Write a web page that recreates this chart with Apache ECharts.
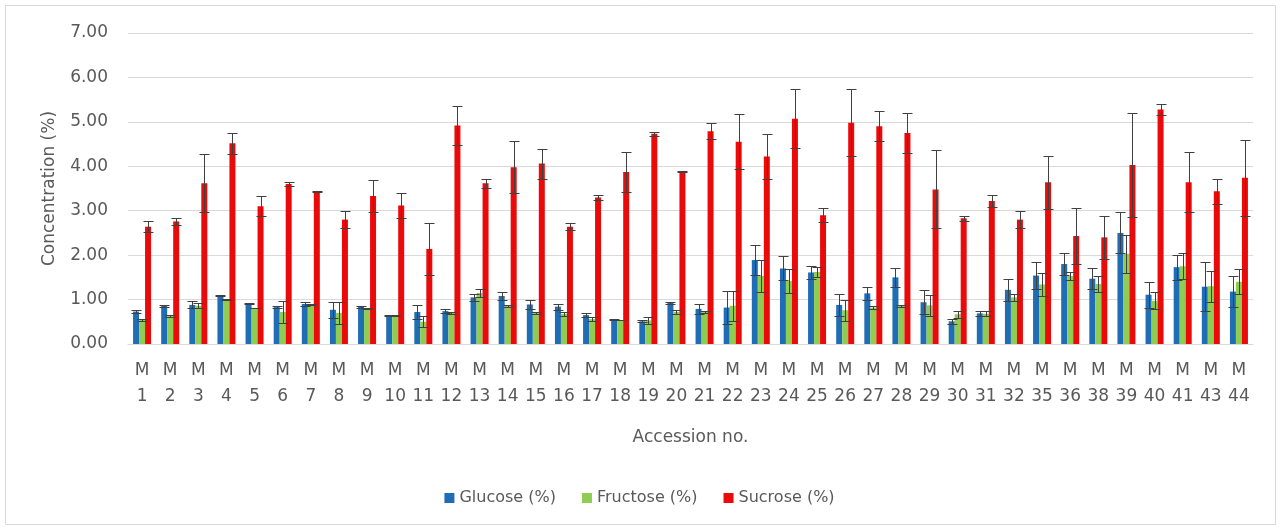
<!DOCTYPE html>
<html>
<head>
<meta charset="utf-8">
<title>Sugar concentration by accession</title>
<script src="https://cdn.jsdelivr.net/npm/echarts@6/dist/echarts.min.js"></script>
<style>
  html, body { margin: 0; padding: 0; background: #ffffff; }
  #chart { width: 1279px; height: 530px; }
</style>
</head>
<body>
<div id="chart"></div>
<script>
// Accession codes along the x axis
const accessions = ['M1','M2','M3','M4','M5','M6','M7','M8','M9','M10',
  'M11','M12','M13','M14','M15','M16','M17','M18','M19','M20',
  'M21','M22','M23','M24','M25','M26','M27','M28','M29','M30',
  'M31','M32','M35','M36','M38','M39','M40','M41','M43','M44'];

// Mean concentration (%) and standard deviation per accession
const glucose = [0.73,0.86,0.88,1.09,0.91,0.83,0.90,0.77,0.84,0.65,
  0.72,0.74,1.05,1.08,0.89,0.84,0.65,0.55,0.51,0.93,
  0.79,0.82,1.89,1.70,1.61,0.88,1.14,1.50,0.94,0.51,
  0.69,1.22,1.54,1.80,1.47,2.50,1.11,1.73,1.29,1.18];
const glucoseSd = [0.03,0.02,0.08,0.02,0.02,0.03,0.05,0.18,0.02,0.01,
  0.15,0.05,0.08,0.08,0.10,0.07,0.05,0.01,0.02,0.02,
  0.12,0.38,0.34,0.27,0.14,0.24,0.14,0.22,0.27,0.06,
  0.05,0.25,0.31,0.24,0.24,0.46,0.29,0.28,0.55,0.34];

const fructose = [0.54,0.63,0.86,1.01,0.81,0.72,0.88,0.70,0.80,0.65,
  0.50,0.70,1.15,0.86,0.70,0.68,0.56,0.54,0.53,0.72,
  0.72,0.86,1.53,1.42,1.62,0.76,0.82,0.86,0.87,0.67,
  0.68,1.05,1.34,1.53,1.35,2.03,0.97,1.75,1.30,1.40];
const fructoseSd = [0.02,0.02,0.06,0.01,0.01,0.24,0.01,0.24,0.01,0.01,
  0.12,0.02,0.09,0.02,0.03,0.04,0.04,0.01,0.07,0.04,
  0.03,0.34,0.37,0.27,0.12,0.24,0.03,0.02,0.24,0.08,
  0.06,0.08,0.26,0.08,0.18,0.43,0.19,0.29,0.35,0.28];

const sucrose = [2.64,2.76,3.62,4.52,3.10,3.60,3.44,2.80,3.33,3.12,
  2.14,4.92,3.62,3.98,4.06,2.64,3.30,3.87,4.73,3.88,
  4.79,4.55,4.22,5.07,2.90,4.98,4.90,4.75,3.48,2.83,
  3.22,2.80,3.64,2.43,2.40,4.03,5.28,3.64,3.44,3.74];
const sucroseSd = [0.12,0.08,0.66,0.24,0.22,0.05,0.01,0.20,0.36,0.28,
  0.58,0.44,0.10,0.58,0.34,0.08,0.06,0.46,0.04,0.01,
  0.18,0.62,0.50,0.66,0.16,0.75,0.34,0.46,0.88,0.06,
  0.14,0.20,0.60,0.62,0.48,1.18,0.13,0.68,0.28,0.86];

const yTicks = [0, 1, 2, 3, 4, 5, 6, 7];

const BAR_W = 6;
const FONT = '"DejaVu Sans", sans-serif';
const TEXT = '#595959';

// Vertical mean ± sd whiskers drawn over each bar
function errorBars(name, means, sds, offset) {
  return {
    type: 'custom',
    name: name,
    silent: true,
    z: 10,
    encode: { x: 0, y: [1, 2] },
    data: means.map((m, i) => [i, m + sds[i], m - sds[i]]),
    renderItem: function (params, api) {
      const i = api.value(0);
      const hi = api.coord([i, api.value(1)]);
      const lo = api.coord([i, api.value(2)]);
      const x = Math.round(hi[0] + offset) + 0.5;
      const y1 = Math.round(hi[1]) + 0.5;
      const y2 = Math.round(lo[1]) + 0.5;
      const half = 5;
      const style = { stroke: '#404040', lineWidth: 1 };
      return {
        type: 'group',
        children: [
          { type: 'line', shape: { x1: x, y1: y1, x2: x, y2: y2 }, style: style },
          { type: 'line', shape: { x1: x - half, y1: y1, x2: x + half, y2: y1 }, style: style },
          { type: 'line', shape: { x1: x - half, y1: y2, x2: x + half, y2: y2 }, style: style }
        ]
      };
    }
  };
}

const chart = echarts.init(document.getElementById('chart'), null, { renderer: 'canvas' });

chart.setOption({
  backgroundColor: '#ffffff',
  animation: false,
  textStyle: { fontFamily: FONT },
  graphic: [{
    type: 'rect',
    shape: { x: 5.5, y: 5.5, width: 1270, height: 519 },
    style: { fill: 'none', stroke: '#d9d9d9', lineWidth: 1 },
    silent: true
  }],
  grid: { left: 128, right: 26, top: 33, bottom: 186, containLabel: false },
  legend: {
    data: ['Glucose (%)', 'Fructose (%)', 'Sucrose (%)'],
    top: 485,
    left: 'center',
    icon: 'rect',
    itemWidth: 10,
    itemHeight: 10,
    itemGap: 26,
    textStyle: { color: TEXT, fontSize: 16, fontFamily: FONT }
  },
  xAxis: {
    type: 'category',
    data: accessions,
    name: 'Accession no.',
    nameLocation: 'middle',
    nameGap: 85,
    nameTextStyle: { color: TEXT, fontSize: 17, fontFamily: FONT },
    axisLine: { show: true, lineStyle: { color: '#d9d9d9' } },
    axisTick: { show: false },
    axisLabel: {
      interval: 0,
      margin: 14,
      color: TEXT,
      fontSize: 17,
      lineHeight: 26,
      fontFamily: FONT,
      formatter: v => v.charAt(0) + '\n' + v.slice(1)
    }
  },
  yAxis: {
    type: 'value',
    min: yTicks[0],
    max: yTicks[yTicks.length - 1],
    interval: 1,
    name: 'Concentration (%)',
    nameLocation: 'middle',
    nameGap: 70,
    nameRotate: 90,
    nameTextStyle: { color: TEXT, fontSize: 17, fontFamily: FONT },
    axisLine: { show: false },
    axisTick: { show: false },
    axisLabel: {
      margin: 20,
      color: TEXT,
      fontSize: 17,
      fontFamily: FONT,
      formatter: v => v.toFixed(2)
    },
    splitLine: { lineStyle: { color: '#d9d9d9', width: 1 } }
  },
  series: [
    { name: 'Glucose (%)', type: 'bar', data: glucose, barWidth: BAR_W, barGap: '0%',
      itemStyle: { color: '#1f6db5' } },
    { name: 'Fructose (%)', type: 'bar', data: fructose, barWidth: BAR_W, barGap: '0%',
      itemStyle: { color: '#8fcc52' } },
    { name: 'Sucrose (%)', type: 'bar', data: sucrose, barWidth: BAR_W, barGap: '0%',
      itemStyle: { color: '#ea0a0a' } },
    errorBars('Glucose sd', glucose, glucoseSd, -BAR_W),
    errorBars('Fructose sd', fructose, fructoseSd, 0),
    errorBars('Sucrose sd', sucrose, sucroseSd, BAR_W)
  ]
});
</script>
</body>
</html>
